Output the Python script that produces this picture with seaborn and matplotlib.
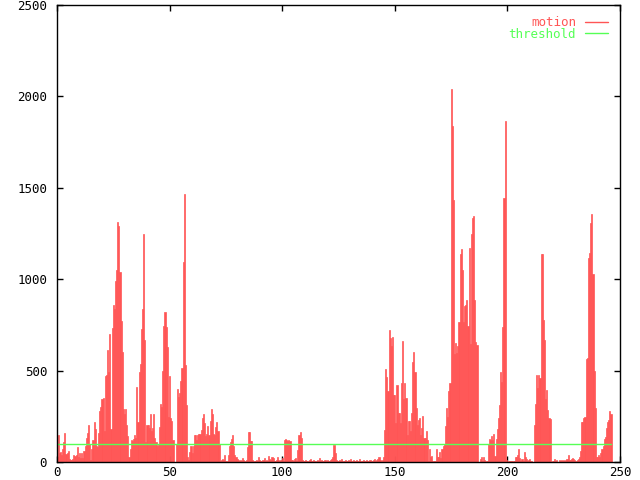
import numpy as np
import seaborn as sns
import matplotlib.pyplot as plt
from matplotlib.lines import Line2D

# motion per sample, one value every 0.5 time units
motion = [
    30, 150, 50, 55, 40, 70, 110, 160, 45, 50, 60, 15, 10, 10, 15, 40, 35, 40, 80, 30,
    50, 20, 50, 20, 60, 90, 130, 160, 200, 100, 10, 70, 120, 220, 180, 90, 80, 160, 280, 300,
    345, 350, 170, 470, 475, 615, 490, 700, 180, 735, 860, 835, 990, 1050, 1313, 1290, 1040, 770, 600, 290,
    260, 290, 200, 140, 30, 70, 120, 115, 125, 150, 130, 410, 220, 490, 535, 730, 835, 1250, 665, 112,
    205, 200, 185, 260, 170, 185, 260, 130, 110, 90, 100, 190, 320, 300, 500, 745, 822, 740, 630, 245,
    472, 240, 225, 120, 0, 0, 100, 400, 358, 380, 445, 515, 1093, 1464, 530, 311, 25, 10, 55, 90,
    50, 90, 145, 150, 120, 145, 155, 153, 175, 240, 260, 211, 140, 155, 195, 150, 225, 290, 260, 155,
    145, 190, 220, 170, 100, 5, 10, 15, 10, 40, 5, 5, 40, 85, 110, 125, 145, 90, 40, 30,
    15, 10, 5, 10, 5, 20, 10, 5, 10, 80, 164, 164, 115, 115, 10, 5, 5, 10, 5, 25,
    10, 5, 5, 10, 20, 5, 10, 5, 35, 15, 10, 25, 20, 5, 5, 10, 25, 10, 5, 10,
    20, 5, 120, 126, 118, 115, 120, 115, 10, 10, 5, 15, 20, 5, 65, 150, 164, 130, 10, 5,
    5, 10, 5, 5, 10, 15, 5, 5, 10, 5, 5, 10, 5, 20, 5, 10, 5, 5, 10, 5,
    10, 5, 5, 10, 15, 30, 95, 50, 10, 5, 5, 10, 5, 15, 5, 5, 10, 5, 5, 10,
    5, 15, 5, 10, 5, 5, 10, 5, 5, 15, 5, 5, 10, 5, 5, 10, 5, 5, 10, 5,
    5, 10, 15, 5, 10, 15, 25, 10, 5, 10, 30, 175, 510, 465, 390, 722, 676, 634, 683, 366,
    366, 215, 421, 266, 266, 215, 430, 660, 345, 430, 350, 148, 224, 224, 172, 266, 545, 604, 494, 294,
    200, 230, 239, 150, 185, 250, 133, 133, 170, 120, 5, 70, 30, 35, 5, 5, 5, 70, 25, 25,
    55, 20, 70, 85, 100, 198, 294, 248, 390, 430, 2040, 1840, 1433, 590, 650, 595, 632, 768, 1136, 1165,
    1048, 765, 852, 860, 887, 746, 1172, 643, 1245, 1336, 1345, 888, 658, 640, 0, 0, 15, 30, 5, 25,
    10, 5, 5, 97, 126, 120, 144, 120, 152, 35, 126, 180, 242, 312, 494, 440, 740, 1446, 1865, 10,
    0, 5, 5, 5, 5, 5, 5, 25, 25, 38, 70, 20, 5, 15, 5, 57, 30, 15, 5, 10,
    15, 5, 0, 0, 202, 315, 476, 407, 476, 458, 1140, 1140, 777, 667, 345, 395, 285, 240, 236, 0,
    5, 5, 15, 5, 10, 0, 10, 5, 10, 5, 10, 5, 10, 15, 38, 10, 10, 15, 20, 15,
    12, 8, 10, 18, 30, 62, 220, 220, 240, 245, 562, 567, 1114, 1145, 1310, 1356, 1028, 500, 294, 25,
    30, 38, 30, 47, 70, 88, 124, 135, 184, 220, 230, 280, 265,
]
threshold = 100
step = 0.5

x_ticks = [0, 50, 100, 150, 200, 250]
y_ticks = [0, 500, 1000, 1500, 2000, 2500]

red = '#ff5555'
green = '#55ff55'

time = np.arange(len(motion)) * step

sns.set_style('white')
plt.rcParams['font.family'] = ['DejaVu Sans Mono']

fig = plt.figure(figsize=(6.4, 4.8), dpi=100)
ax = fig.add_axes([0.089, 0.0375, 0.8797, 0.952])

# motion as impulses (thin edge in the same colour closes the gaps)
sns.barplot(x=time, y=motion, native_scale=True, width=1.0, color=red,
            saturation=1, linewidth=0.5, edgecolor=red, errorbar=None, ax=ax)
# threshold line over the same time range
sns.lineplot(x=time, y=[threshold] * len(time), color=green, linewidth=1, ax=ax)

ax.set_xlim(0, 250)
ax.set_ylim(0, 2500)
ax.set_xticks(x_ticks)
ax.set_yticks(y_ticks)
ax.set_xticklabels([str(t) for t in x_ticks])
ax.set_yticklabels([str(t) for t in y_ticks])
ax.set_xlabel('')
ax.set_ylabel('')

ax.tick_params(direction='in', length=4, width=1, colors='black', labelsize=9,
               top=True, right=True, bottom=True, left=True)
ax.tick_params(axis='y', pad=7)
ax.tick_params(axis='x', pad=3)
for s in ax.spines.values():
    s.set_visible(True)
    s.set_color('black')
    s.set_linewidth(1)

handles = [Line2D([], [], color=red, lw=1), Line2D([], [], color=green, lw=1)]
leg = ax.legend(handles, ['motion', 'threshold'], loc='upper right', frameon=False,
                markerfirst=False, fontsize=9, handlelength=1.9, handletextpad=0.7,
                labelspacing=-0.1, borderaxespad=0.3, bbox_to_anchor=(0.995, 0.995))
for txt, c in zip(leg.get_texts(), [red, green]):
    txt.set_color(c)

fig.savefig('out.png', dpi=100)
